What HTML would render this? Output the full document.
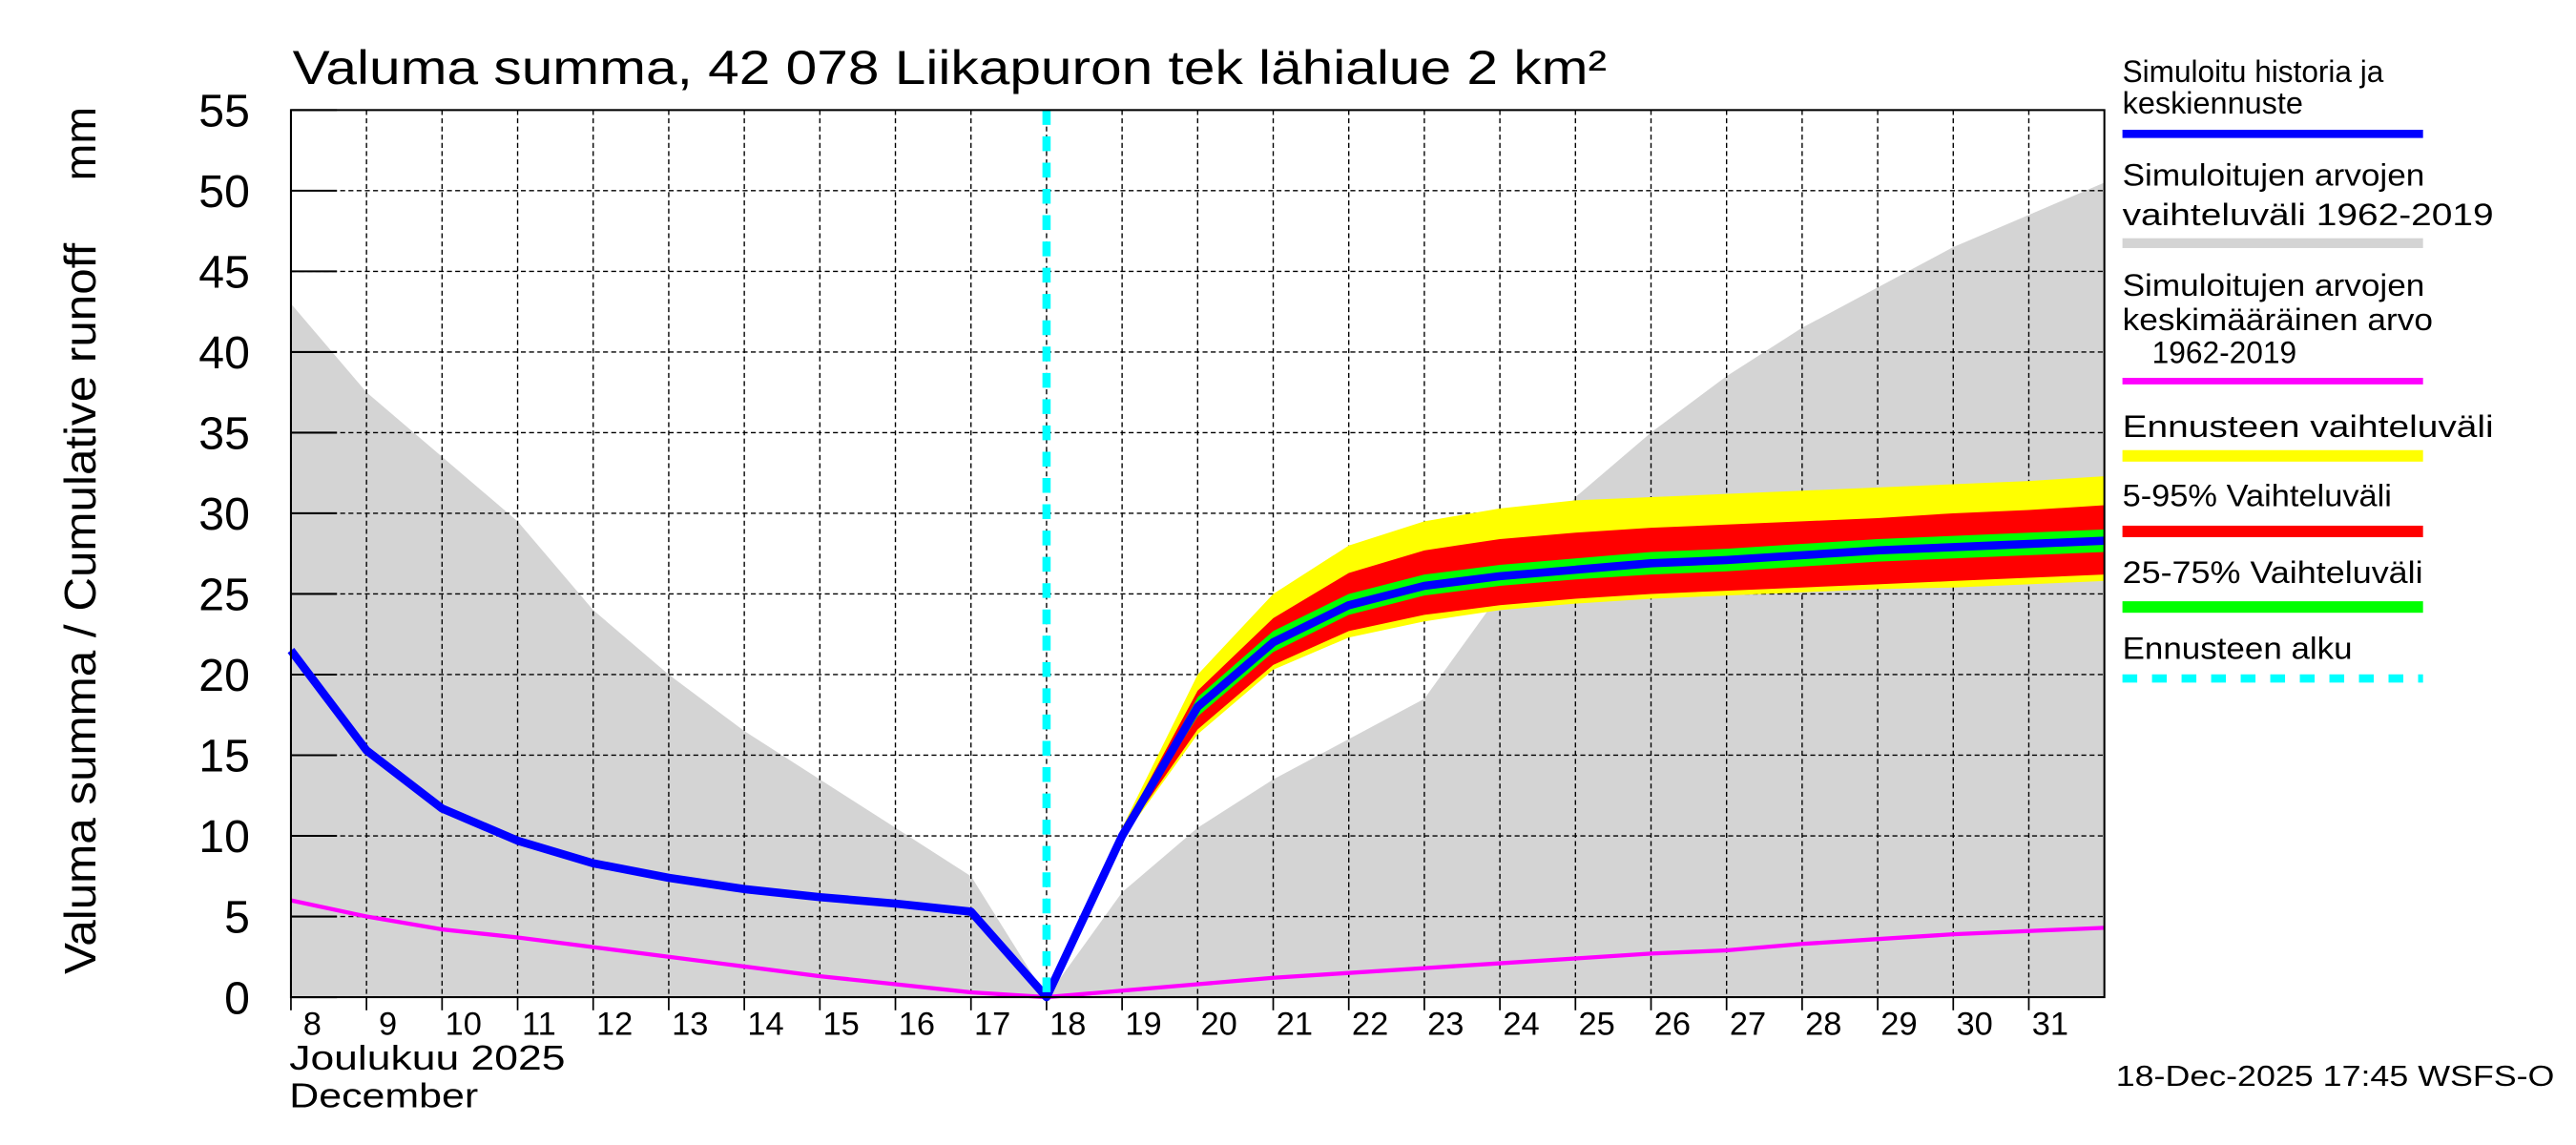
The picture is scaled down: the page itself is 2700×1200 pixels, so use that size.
<!DOCTYPE html>
<html><head><meta charset="utf-8"><style>html,body{margin:0;padding:0;background:#fff}svg{display:block}text{font-family:"Liberation Sans",sans-serif}</style></head>
<body>
<svg id="c" width="2700" height="1200" viewBox="0 0 1568 697" xmlns="http://www.w3.org/2000/svg">
<g id="plot"></g>
<text x="178" y="51" font-size="29" textLength="800" lengthAdjust="spacingAndGlyphs">Valuma summa, 42 078 Liikapuron tek lähialue 2 km²</text>
<text transform="translate(58,593) rotate(-90)" font-size="27" textLength="445" lengthAdjust="spacingAndGlyphs">Valuma summa / Cumulative runoff</text>
<text transform="translate(58,110) rotate(-90)" font-size="27">mm</text>
<text x="176" y="651" font-size="21" textLength="168" lengthAdjust="spacingAndGlyphs">Joulukuu  2025</text>
<text x="176" y="674" font-size="21" textLength="115" lengthAdjust="spacingAndGlyphs">December</text>
<text x="1288" y="661" font-size="18" textLength="267" lengthAdjust="spacingAndGlyphs">18-Dec-2025 17:45 WSFS-O</text>
<g font-size="19">
<text x="1292" y="50" textLength="159" lengthAdjust="spacingAndGlyphs">Simuloitu historia ja</text><text x="1292" y="69" textLength="110" lengthAdjust="spacingAndGlyphs">keskiennuste</text>
<rect x="1292" y="79" width="183" height="5" fill="#0000ff"/>
<text x="1292" y="113" textLength="184" lengthAdjust="spacingAndGlyphs">Simuloitujen arvojen</text><text x="1292" y="137" textLength="226" lengthAdjust="spacingAndGlyphs">vaihteluväli 1962-2019</text>
<rect x="1292" y="145" width="183" height="6" fill="#d4d4d4"/>
<text x="1292" y="180" textLength="184" lengthAdjust="spacingAndGlyphs">Simuloitujen arvojen</text><text x="1292" y="201" textLength="189" lengthAdjust="spacingAndGlyphs">keskimääräinen arvo</text><text x="1310" y="221" textLength="88" lengthAdjust="spacingAndGlyphs">1962-2019</text>
<rect x="1292" y="230" width="183" height="4" fill="#ff00ff"/>
<text x="1292" y="266" textLength="226" lengthAdjust="spacingAndGlyphs">Ennusteen vaihteluväli</text>
<rect x="1292" y="274" width="183" height="7" fill="#ffff00"/>
<text x="1292" y="308" textLength="164" lengthAdjust="spacingAndGlyphs">5-95% Vaihteluväli</text>
<rect x="1292" y="320" width="183" height="7" fill="#ff0000"/>
<text x="1292" y="355" textLength="183" lengthAdjust="spacingAndGlyphs">25-75% Vaihteluväli</text>
<rect x="1292" y="366" width="183" height="7" fill="#00ff00"/>
<text x="1292" y="401" textLength="140" lengthAdjust="spacingAndGlyphs">Ennusteen alku</text>
<line x1="1292" y1="413" x2="1475" y2="413" stroke="#00ffff" stroke-width="5" stroke-dasharray="9,9"/>
</g>
</svg>
<script>
const days=[8,9,10,11,12,13,14,15,16,17,18,19,20,21,22,23,24,25,26,27,28,29,30,31,32];
const greyUpper=[43,37.5,33.5,29.5,24,20,16.5,13.5,10.5,7.5,0,6.5,10.5,13.5,16,18.5,25,31,35,38.5,41.5,44,46.5,48.5,50.5];
const meanVals=[6,5,4.2,3.7,3.1,2.5,1.9,1.3,0.8,0.3,0,0.4,0.8,1.2,1.5,1.8,2.1,2.4,2.7,2.9,3.3,3.6,3.9,4.1,4.3];
const fDays=[18,19,20,21,22,23,24,25,26,27,28,29,30,31,32];
const yelMax=[0,10.5,20,25,28,29.5,30.3,30.8,31,31.2,31.4,31.6,31.8,32,32.3];
const yelMin=[0,9.8,16.3,20.3,22.3,23.3,24,24.4,24.7,24.9,25.1,25.3,25.4,25.6,25.8];
const redMax=[0,10.3,19,23.5,26.3,27.7,28.4,28.8,29.1,29.3,29.5,29.7,30,30.2,30.5];
const redMin=[0,9.9,16.6,20.6,22.7,23.7,24.3,24.7,25,25.2,25.4,25.6,25.8,26,26.2];
const grnMax=[0,10.1,18.6,22.7,25,26.2,26.8,27.2,27.6,27.8,28.1,28.4,28.6,28.8,29];
const grnMin=[0,9.95,17.4,21.4,23.7,24.9,25.5,25.9,26.2,26.4,26.7,27,27.2,27.4,27.6];
const blueVals=[21.5,15.3,11.7,9.7,8.3,7.4,6.7,6.2,5.8,5.3,0,10,18,22,24.3,25.5,26.1,26.5,26.9,27.1,27.4,27.7,27.9,28.1,28.3];
const yTicks=[0,5,10,15,20,25,30,35,40,45,50,55];
const xLabels=[8,9,10,11,12,13,14,15,16,17,18,19,20,21,22,23,24,25,26,27,28,29,30,31];
const forecastStart=18;

const L=177,R=1281,T=67,B=607;
const X=d=>L+(d-8)*(R-L)/24;
const Y=v=>B-v*(B-T)/55;
const NS='http://www.w3.org/2000/svg';
const g=document.getElementById('plot');
function mk(tag,attrs){const e=document.createElementNS(NS,tag);for(const k in attrs)e.setAttribute(k,attrs[k]);g.appendChild(e);return e;}
function band(xs,lo,hi,fill,name){
  let p=xs.map((d,i)=>X(d)+','+Y(hi[i]));
  for(let i=xs.length-1;i>=0;i--)p.push(X(xs[i])+','+Y(lo[i]));
  const e=mk('polygon',{points:p.join(' '),fill:fill});
  
  
}
function line(xs,vs,stroke,w,name){
  const e=mk('polyline',{points:xs.map((d,i)=>X(d)+','+Y(vs[i])).join(' '),fill:'none',stroke:stroke,'stroke-width':w,'stroke-linejoin':'round'});
  
  
}
band(days,days.map(()=>0),greyUpper,'#d4d4d4','historical-range-band');
yTicks.forEach(v=>{
  const e=mk('line',{x1:L,x2:R,y1:Y(v),y2:Y(v),stroke:'#000','stroke-width':0.8,'stroke-dasharray':'3,2'});
  
  
  const t=mk('line',{x1:L,x2:L+28,y1:Y(v),y2:Y(v),stroke:'#000','stroke-width':1.2});
  
  
  const lb=mk('text',{x:L-25,y:Y(v)+10,'text-anchor':'end','font-size':28});
  lb.textContent=v;
  
  
});
xLabels.forEach(d=>{
  const e=mk('line',{x1:X(d),x2:X(d),y1:T,y2:B,stroke:'#000','stroke-width':0.8,'stroke-dasharray':'3,2'});
  
  
  const t=mk('line',{x1:X(d),x2:X(d),y1:B,y2:B+8,stroke:'#000','stroke-width':1});
  
  
  const lb=mk('text',{x:X(d)+13,y:B+23,'text-anchor':'middle','font-size':20});
  lb.textContent=d;
  
  
});
band(fDays,yelMin,yelMax,'#ffff00','forecast-range-band');
band(fDays,redMin,redMax,'#ff0000','band-5-95');
band(fDays,grnMin,grnMax,'#00ff00','band-25-75');
line(days,meanVals,'#ff00ff',2.5,'mean-line');
line(days,blueVals,'#0000ff',5,'simulated-line');
const fs=mk('line',{x1:X(forecastStart),x2:X(forecastStart),y1:T,y2:B,stroke:'#00ffff','stroke-width':5,'stroke-dasharray':'9,7'});


const fr=mk('rect',{x:L,y:T,width:R-L,height:B-T,fill:'none',stroke:'#000','stroke-width':1.2});


</script>
</body></html>
